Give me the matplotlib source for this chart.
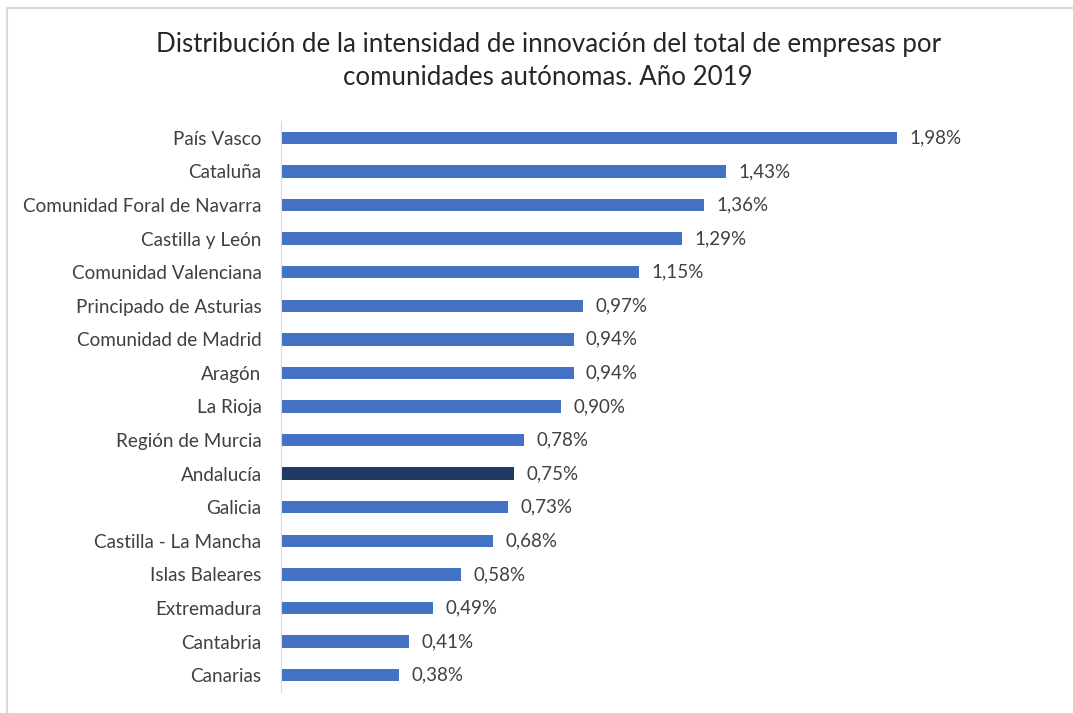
import matplotlib.pyplot as plt
from matplotlib.patches import Rectangle

regiones = ['País Vasco', 'Cataluña', 'Comunidad Foral de Navarra', 'Castilla y León',
            'Comunidad Valenciana', 'Principado de Asturias', 'Comunidad de Madrid',
            'Aragón', 'La Rioja', 'Región de Murcia', 'Andalucía', 'Galicia',
            'Castilla - La Mancha', 'Islas Baleares', 'Extremadura', 'Cantabria', 'Canarias']
intensidad = [1.98, 1.43, 1.36, 1.29, 1.15, 0.97, 0.94, 0.94, 0.90, 0.78, 0.75,
              0.73, 0.68, 0.58, 0.49, 0.41, 0.38]
destacada = 'Andalucía'

plt.rcParams['font.family'] = ['Lato', 'DejaVu Sans']

fig = plt.figure(figsize=(10.73, 7.13), dpi=100)
ax = fig.add_axes([0.2619, 0.0295, 0.725, 0.8008])

# marco gris del gráfico (solo se ven arriba y a la izquierda)
fig.add_artist(Rectangle((7 / 1073, -0.1), 1.2, 1 - 8 / 713 + 0.1, transform=fig.transFigure,
                         fill=False, edgecolor='#d9d9d9', linewidth=1.5))

y = list(range(len(regiones)))[::-1]
colores = ['#1f3864' if r == destacada else '#4472c4' for r in regiones]
ax.barh(y, intensidad, height=0.37, color=colores)

for yi, v in zip(y, intensidad):
    ax.text(v + 0.04, yi, f'{v:.2f}%'.replace('.', ','), va='center', ha='left',
            fontsize=13.5, color='#404040')

ax.set_xlim(0, 2.5)
ax.set_ylim(-0.5, len(regiones) - 0.5)
ax.set_yticks(y)
ax.set_yticklabels(regiones, fontsize=13.6, color='#404040')
ax.tick_params(axis='y', length=0, pad=14)
ax.set_xticks([])
for s in ['top', 'right', 'bottom']:
    ax.spines[s].set_visible(False)
ax.spines['left'].set_color('#d9d9d9')

fig.text(0.511, 0.914, 'Distribución de la intensidad de innovación del total de empresas por\n'
         'comunidades autónomas. Año 2019', ha='center', va='center',
         fontsize=18.6, color='#262626', linespacing=1.4)

plt.savefig('out.png', dpi=100)
